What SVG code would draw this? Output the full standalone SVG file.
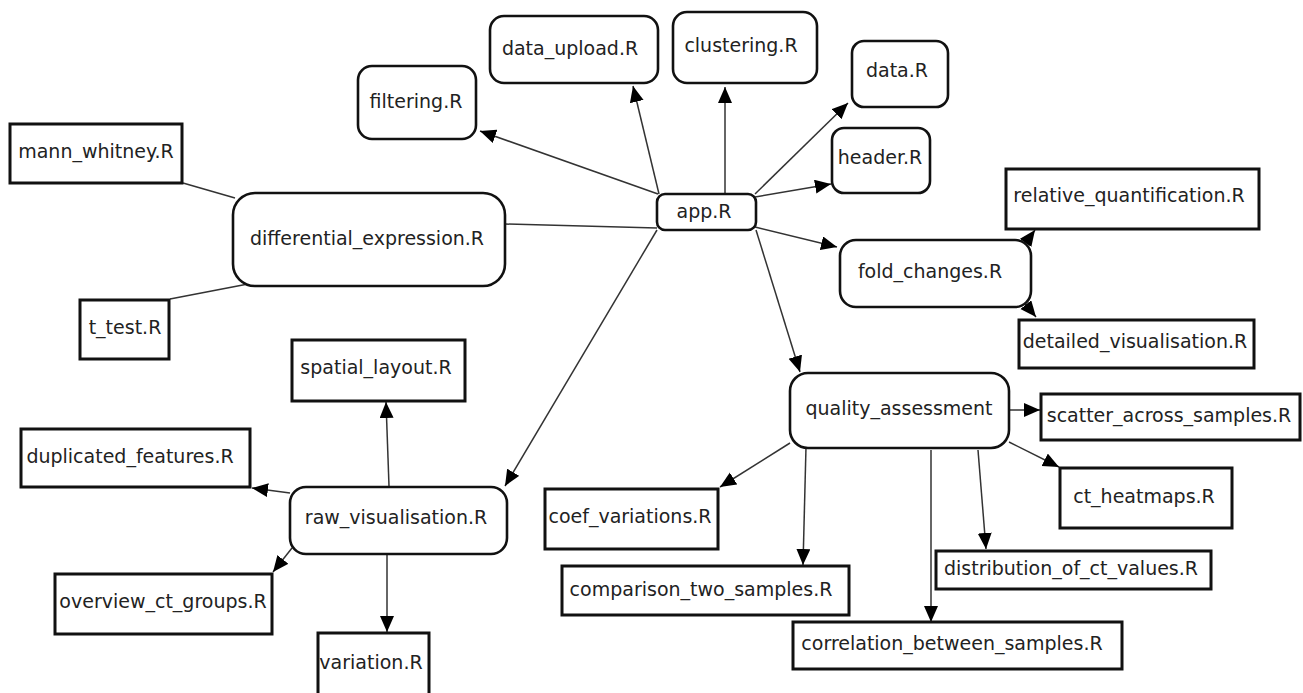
<svg xmlns="http://www.w3.org/2000/svg" width="1303" height="693" viewBox="0 0 1303 693">
<style>
.r{fill:#fff;stroke:#111;stroke-width:2.6}
.b{fill:#fff;stroke:#111;stroke-width:3}
text{font-family:"DejaVu Sans",Verdana,sans-serif;font-size:19px;fill:#222;text-anchor:middle}
.e line{stroke:#333;stroke-width:1.5}
.a{marker-end:url(#ah)}
</style>
<defs>
<marker id="ah" markerUnits="userSpaceOnUse" markerWidth="17" markerHeight="15" refX="16" refY="7" orient="auto">
<path d="M0,0 L16,7 L0,14 z" fill="#000"/>
</marker>
</defs>
<rect width="1303" height="693" fill="#fff"/>
<g class="e" id="connectors">
<line x1="658" y1="194" x2="480" y2="131" class="a"/>
<line x1="659" y1="194" x2="633" y2="86" class="a"/>
<line x1="725" y1="194" x2="725" y2="87" class="a"/>
<line x1="755" y1="194" x2="848" y2="103" class="a"/>
<line x1="755" y1="197" x2="831" y2="184" class="a"/>
<line x1="755" y1="227" x2="837" y2="247" class="a"/>
<line x1="756" y1="230" x2="800" y2="372" class="a"/>
<line x1="657" y1="230" x2="505" y2="486" class="a"/>
<line x1="505" y1="224" x2="657" y2="228"/>
<line x1="183" y1="183" x2="235" y2="198"/>
<line x1="170" y1="299" x2="248" y2="284"/>
<line x1="1022" y1="248" x2="1035" y2="230" class="a"/>
<line x1="1022" y1="300" x2="1036" y2="317" class="a"/>
<line x1="389" y1="486" x2="386" y2="402" class="a"/>
<line x1="290" y1="493" x2="252" y2="488" class="a"/>
<line x1="292" y1="548" x2="273" y2="572" class="a"/>
<line x1="387" y1="555" x2="387" y2="632" class="a"/>
<line x1="1010" y1="410" x2="1040" y2="410" class="a"/>
<line x1="1009" y1="442" x2="1059" y2="467" class="a"/>
<line x1="790" y1="443" x2="720" y2="487" class="a"/>
<line x1="806" y1="447" x2="803" y2="565" class="a"/>
<line x1="931" y1="450" x2="931" y2="622" class="a"/>
<line x1="978" y1="450" x2="986" y2="549" class="a"/>
</g>
<g id="filtering"><rect class="r" x="358" y="66" width="118" height="73" rx="14"/><text x="416" y="108">filtering.R</text></g>
<g id="data_upload"><rect class="r" x="490" y="16" width="168" height="67" rx="14"/><text x="570" y="55">data_upload.R</text></g>
<g id="clustering"><rect class="r" x="673" y="12" width="144" height="71" rx="14"/><text x="741" y="52">clustering.R</text></g>
<g id="data"><rect class="r" x="852" y="41" width="96" height="66" rx="12"/><text x="897" y="77">data.R</text></g>
<g id="header"><rect class="r" x="832" y="128" width="98" height="65" rx="12"/><text x="880" y="164">header.R</text></g>
<g id="app"><rect class="r" x="657" y="194" width="99" height="36" rx="8"/><text x="704" y="218">app.R</text></g>
<g id="fold_changes"><rect class="r" x="840" y="240" width="191" height="67" rx="16"/><text x="930" y="278">fold_changes.R</text></g>
<g id="differential_expression"><rect class="r" x="233" y="193" width="272" height="93" rx="22"/><text x="367" y="245">differential_expression.R</text></g>
<g id="raw_visualisation"><rect class="r" x="290" y="487" width="217" height="67" rx="16"/><text x="396" y="524">raw_visualisation.R</text></g>
<g id="quality_assessment"><rect class="r" x="790" y="373" width="219" height="75" rx="18"/><text x="899" y="415">quality_assessment</text></g>
<g id="mann_whitney"><rect class="b" x="10" y="124" width="172" height="59"/><text x="96" y="158">mann_whitney.R</text></g>
<g id="t_test"><rect class="b" x="80" y="300" width="89" height="59"/><text x="125" y="334">t_test.R</text></g>
<g id="relative_quantification"><rect class="b" x="1006" y="169" width="253" height="60"/><text x="1129" y="202">relative_quantification.R</text></g>
<g id="detailed_visualisation"><rect class="b" x="1019" y="320" width="235" height="48"/><text x="1135" y="348">detailed_visualisation.R</text></g>
<g id="spatial_layout"><rect class="b" x="292" y="340" width="173" height="61"/><text x="376" y="374">spatial_layout.R</text></g>
<g id="duplicated_features"><rect class="b" x="21" y="429" width="229" height="58"/><text x="130" y="463">duplicated_features.R</text></g>
<g id="overview_ct_groups"><rect class="b" x="55" y="574" width="217" height="60"/><text x="163" y="608">overview_ct_groups.R</text></g>
<g id="variation"><rect class="b" x="318" y="633" width="111" height="70"/><text x="371" y="669">variation.R</text></g>
<g id="scatter_across_samples"><rect class="b" x="1041" y="394" width="259" height="46"/><text x="1169" y="422">scatter_across_samples.R</text></g>
<g id="ct_heatmaps"><rect class="b" x="1060" y="468" width="172" height="60"/><text x="1144" y="503">ct_heatmaps.R</text></g>
<g id="coef_variations"><rect class="b" x="545" y="489" width="173" height="60"/><text x="630" y="523">coef_variations.R</text></g>
<g id="comparison_two_samples"><rect class="b" x="562" y="566" width="287" height="49"/><text x="701" y="596">comparison_two_samples.R</text></g>
<g id="distribution_of_ct_values"><rect class="b" x="936" y="551" width="275" height="38"/><text x="1071" y="575">distribution_of_ct_values.R</text></g>
<g id="correlation_between_samples"><rect class="b" x="793" y="622" width="329" height="47"/><text x="952" y="650">correlation_between_samples.R</text></g>
</svg>
